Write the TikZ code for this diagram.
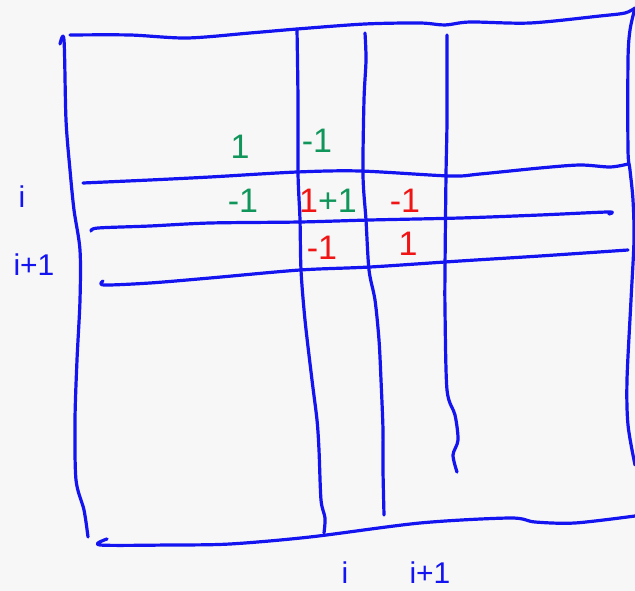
\documentclass[tikz,border=0pt]{standalone}
\usepackage{fontspec}
\setmainfont{Liberation Sans}
\definecolor{penblue}{RGB}{20,20,240}
\definecolor{pengreen}{RGB}{16,150,90}
\definecolor{penred}{RGB}{240,20,20}
\definecolor{paper}{RGB}{247,247,247}
\begin{document}
\begin{tikzpicture}[x=1pt,y=-1pt,
  pen/.style={penblue,line width=3.2pt,line cap=round,line join=round},
  num/.style={font=\fontsize{34}{34}\selectfont,inner sep=0pt},
  lab/.style={penblue,font=\fontsize{30}{30}\selectfont,inner sep=0pt}]
\fill[paper] (0,0) rectangle (635,591);
\useasboundingbox (0,0) rectangle (635,591);
% frame
\draw[pen] plot[smooth,tension=0.5] coordinates {(70,35) (130,35) (187,38) (250,33) (297,29) (365,24) (420,23) (445,25) (470,22) (530,23) (600,16) (625,13) (635,8)};
\draw[pen] plot[smooth,tension=0.5] coordinates {(60,44) (64,40) (66,120) (70,170) (74,210) (80,250) (80,300) (77,360) (75,420) (76,480) (84,510) (88,537)};
\draw[pen] plot[smooth,tension=0.5] coordinates {(635,8) (630,30) (628,60) (628,150) (630,170) (633,200) (634,240) (631,300) (627,380) (628,425) (635,465)};
\draw[pen] plot[smooth,tension=0.5] coordinates {(107,539) (100,545) (170,545) (230,544) (310,537) (420,523) (510,518) (535,522) (575,523) (635,516)};
% verticals
\draw[pen] plot[smooth,tension=0.5] coordinates {(297,29) (298,100) (298,173) (300,220) (301,270) (305,320) (312,380) (317,420) (319,450) (321,500) (325,518) (324,533)};
\draw[pen] plot[smooth,tension=0.5] coordinates {(365,33) (366,60) (364,100) (363,175) (366,220) (369,270) (375,300) (379,340) (381,380) (383,430) (383,470) (384,515)};
\draw[pen] plot[smooth,tension=0.5] coordinates {(447,35) (447,120) (446,175) (445,270) (445,310) (447,390) (455,415) (458,440) (453,455) (457,472)};
% horizontals
\draw[pen] plot[smooth,tension=0.5] coordinates {(83,183) (150,180) (210,177) (297,172) (360,171) (450,176) (480,174) (540,168) (580,165) (610,167) (628,164)};
\draw[pen] plot[smooth,tension=0.5] coordinates {(91,231) (98,228) (150,226) (210,223) (300,222) (370,220) (460,218) (540,215) (608,212) (609,214)};
\draw[pen] plot[smooth,tension=0.5] coordinates {(103,281) (104,285) (150,283) (210,278) (300,270) (370,267) (460,261) (540,256) (628,250)};
% entries
\node[num,pengreen] (a11) at (240,147) {1};
\node[num,pengreen] (a12) at (317,141) {-1};
\node[num,pengreen] (a21) at (243,201) {-1};
\node[num] (a22) at (328,201) {\textcolor{penred}{1}\textcolor{pengreen}{+1}};
\node[num,penred] (a23) at (405,201) {-1};
\node[num,penred] (a32) at (322,248) {-1};
\node[num,penred] (a33) at (408,244) {1};
% labels
\node[lab] (li) at (22,197) {i};
\node[lab] (li1) at (34,265) {i+1};
\node[lab] (bi) at (345,573) {i};
\node[lab] (bi1) at (430,573) {i+1};
\end{tikzpicture}
\end{document}
